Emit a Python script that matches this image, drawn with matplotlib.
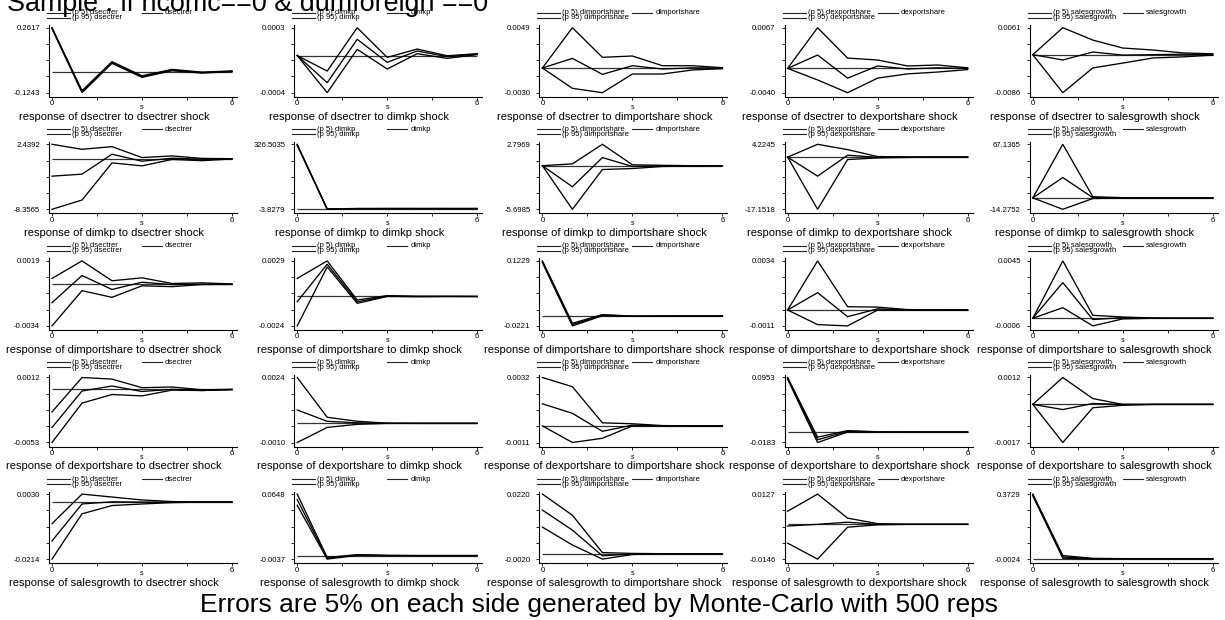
import matplotlib
matplotlib.use('Agg')
import matplotlib.pyplot as plt
from matplotlib.lines import Line2D
import numpy as np

plt.rcParams['font.family'] = ['Liberation Sans', 'DejaVu Sans']

# ---------------- data ----------------
steps = [0, 1, 2, 3, 4, 5, 6]
variables = ['dsectrer', 'dimkp', 'dimportshare', 'dexportshare', 'salesgrowth']
x_ticks = [0, 1.5, 3, 4.5, 6]
x_tick_labels = ['0', '', '', '', '6']
main_title = 'Sample : if ncomc==0 & dumforeign ==0'
footnote = 'Errors are 5% on each side generated by Monte-Carlo with 500 reps'

# response of dsectrer to [dsectrer, dimkp, dimportshare, dexportshare, salesgrowth] shock
p5_dsectrer = [
    [0.2560, -0.1243, 0.050, -0.033, 0.006, -0.008, 0.001],
    [0, -0.00040, 0.000067, -0.000145, 0.00002, -0.00003, 0.00001],
    [0, -0.00247, -0.0030, -0.00073, -0.00073, -0.00024, -0.00008],
    [0, -0.0019, -0.0040, -0.0016, -0.0009, -0.0006, -0.0002],
    [0, -0.0086, -0.0030, -0.0019, -0.00075, -0.0005, -0.0001],
]
irf_dsectrer = [
    [0.2590, -0.118, 0.055, -0.028, 0.010, -0.005, 0.003],
    [0, -0.000292, 0.000175, -0.000073, 0.000049, -0.000012, 0.000015],
    [0, 0.00117, -0.00077, 0.00028, -0.00012, 0.00002, 0.0],
    [0, 0.0022, -0.0016, 0.0004, -0.0001, 0.0001, 0.0],
    [0, -0.0012, 0.0006, -0.0001, 0.0, 0.0001, 0.0],
]
p95_dsectrer = [
    [0.2617, -0.112, 0.060, -0.024, 0.014, -0.002, 0.005],
    [0, -0.000167, 0.00030, -0.00002, 0.00007, -0.000002, 0.00002],
    [0, 0.0049, 0.0013, 0.00146, 0.00028, 0.00028, 0.00004],
    [0, 0.0067, 0.0017, 0.00138, 0.0004, 0.00056, 0.0001],
    [0, 0.0061, 0.0033, 0.0015, 0.00106, 0.0004, 0.0002],
]

# response of dimkp
p5_dimkp = [
    [-8.3565, -6.82, -0.65, -1.14, -0.08, -0.28, 0.0],
    [321.5, -3.8279, -0.7, -0.1, -0.05, -0.02, -0.01],
    [0, -5.6985, -0.50, -0.37, -0.1, -0.05, 0.0],
    [0, -17.1518, -0.79, -0.25, -0.1, 0.0, 0.0],
    [0, -14.2752, -0.8, -0.1, 0.0, 0.0, 0.0],
]
irf_dimkp = [
    [-2.85, -2.52, 0.79, -0.37, 0.13, -0.03, 0.05],
    [324.0, -3.0, -0.2, 0.0, 0.0, 0.0, 0.0],
    [0, -2.75, 1.06, -0.10, 0.0, 0.0, 0.0],
    [0, -6.25, 0.63, -0.05, 0.0, 0.0, 0.0],
    [0, 25.5, 0.3, 0.1, 0.0, 0.0, 0.0],
]
p95_dimkp = [
    [2.4392, 1.61, 2.05, 0.24, 0.51, 0.1, 0.05],
    [326.5035, -2.0, 0.3, 0.1, 0.05, 0.02, 0.01],
    [0, 0.24, 2.7969, 0.12, 0.05, 0.0, 0.0],
    [0, 4.2245, 2.47, 0.2, 0.05, 0.0, 0.0],
    [0, 67.1365, 1.5, 0.3, 0.1, 0.0, 0.0],
]

# response of dimportshare
p5_dimportshare = [
    [-0.0034, -0.00053, -0.00107, -0.00013, -0.0002, -0.00003, -0.00002],
    [-0.0024, 0.00241, -0.00056, 0.0, -0.00002, 0.0, 0.0],
    [0.1190, -0.0221, 0.0005, -0.0008, -0.0003, -0.0001, 0.0],
    [0, -0.00101, -0.0011, 0.0, 0.0, 0.0, 0.0],
    [0, 0.00083, -0.0006, -0.00005, 0.0, 0.0, 0.0],
]
irf_dimportshare = [
    [-0.00151, 0.00071, -0.00043, 0.00016, -0.00003, 0.0, -0.00001],
    [-0.00043, 0.00263, -0.00043, 0.00002, 0.0, 0.0, 0.0],
    [0.1210, -0.0192, 0.002, -0.0005, -0.0002, 0.0, 0.0],
    [0, 0.0012, -0.00046, 0.00008, 0.0, 0.0, 0.0],
    [0, 0.0028, -0.0001, 0.00005, 0.0, 0.0, 0.0],
]
p95_dimportshare = [
    [0.00047, 0.0019, 0.00028, 0.00052, 0.00006, 0.00011, 0.00002],
    [0.00147, 0.0029, -0.00029, 0.00007, 0.00002, 0.00001, 0.0],
    [0.1229, -0.0162, 0.003, -0.0002, -0.0001, 0.0, 0.0],
    [0, 0.0034, 0.00023, 0.0002, 0.00003, 0.00001, 0.0],
    [0, 0.0045, 0.00023, 0.0001, 0.00002, 0.0, 0.0],
]

# response of dexportshare
p5_dexportshare = [
    [-0.0053, -0.00136, -0.0005, -0.00064, -0.00006, -0.0001, -0.00002],
    [-0.0010, -0.00021, -0.00005, 0.0, 0.0, 0.0, 0.0],
    [0, -0.0011, -0.00082, 0.0, 0.0, 0.0, 0.0],
    [0.0925, -0.0183, 0.0, -0.0005, -0.0002, 0.0, 0.0],
    [0, -0.0017, -0.00015, -0.00004, 0.0, 0.0, 0.0],
]
irf_dexportshare = [
    [-0.0038, -0.00015, 0.00035, -0.0002, 0.00002, -0.0001, 0.0],
    [0.0007, 0.00011, 0.00003, 0.0, 0.0, 0.0, 0.0],
    [0.00146, 0.00083, -0.00036, 0.00005, 0.0, 0.0, 0.0],
    [0.0940, -0.0135, 0.0012, 0.0, 0.0, 0.0, 0.0],
    [0, -0.00023, 0.00004, 0.0, 0.0, 0.0, 0.0],
]
p95_dexportshare = [
    [-0.00224, 0.0012, 0.00104, 0.00018, 0.00025, -0.00003, 0.00002],
    [0.0024, 0.00032, 0.00011, 0.00001, 0.0, 0.0, 0.0],
    [0.0032, 0.00259, 0.0002, 0.00014, 0.00002, 0.0, 0.0],
    [0.0953, -0.0090, 0.0025, 0.0005, 0.0001, 0.0, 0.0],
    [0, 0.0012, 0.00026, 0.0, 0.0, 0.0, 0.0],
]

# response of salesgrowth
p5_salesgrowth = [
    [-0.0214, -0.0044, -0.0013, -0.0007, -0.0002, 0.0, 0.0],
    [0.0530, -0.0037, 0.0002, 0.0, 0.0, 0.0, 0.0],
    [0.0098, 0.0032, -0.0020, -0.0003, 0.0, 0.0, 0.0],
    [-0.0079, -0.0146, -0.0012, -0.0002, 0.0, 0.0, 0.0],
    [0.3630, 0.0030, -0.0024, -0.0005, 0.0, 0.0, 0.0],
]
irf_salesgrowth = [
    [-0.0146, -0.0007, 0.0001, 0.0, 0.0, 0.0, 0.0],
    [0.0590, -0.0028, 0.0006, 0.0001, 0.0, 0.0, 0.0],
    [0.0161, 0.0087, -0.0008, -0.0001, 0.0, 0.0, 0.0],
    [-0.0007, 0.0, 0.0009, 0.0, 0.0, 0.0, 0.0],
    [0.3680, 0.0100, 0.0, 0.0, 0.0, 0.0, 0.0],
]
p95_salesgrowth = [
    [-0.0081, 0.0030, 0.0019, 0.0008, 0.0002, 0.0, 0.0],
    [0.0648, -0.0020, 0.0010, 0.0002, 0.0, 0.0, 0.0],
    [0.0220, 0.0142, 0.0004, 0.0001, 0.0, 0.0, 0.0],
    [0.0055, 0.0127, 0.0026, 0.0003, 0.0, 0.0, 0.0],
    [0.3729, 0.0180, 0.0020, 0.0003, 0.0, 0.0, 0.0],
]

p5_all = [p5_dsectrer, p5_dimkp, p5_dimportshare, p5_dexportshare, p5_salesgrowth]
irf_all = [irf_dsectrer, irf_dimkp, irf_dimportshare, irf_dexportshare, irf_salesgrowth]
p95_all = [p95_dsectrer, p95_dimkp, p95_dimportshare, p95_dexportshare, p95_salesgrowth]

# ---------------- layout ----------------
W, H = 1225, 620
fig = plt.figure(figsize=(W / 100, H / 100), dpi=100)
fig.patch.set_facecolor('white')


def fx(px):
    return px / W


def fy(py):
    return 1 - py / H


LINE_KW = dict(color='black', lw=0.95, solid_joinstyle='miter')
COL_W = 245.2
ROW_H = 116.6

for r, resp in enumerate(variables):
    for c, imp in enumerate(variables):
        x0 = 52 + COL_W * c          # pixel of step 0
        ytop = 27.7 + ROW_H * r       # pixel of band maximum
        ybot = ytop + 65              # pixel of band minimum
        ax = fig.add_axes([fx(x0 - 3), fy(ybot + 4), 188 / W, 71.5 / H])

        lo5 = p5_all[r][c]
        mid = irf_all[r][c]
        hi95 = p95_all[r][c]
        vmin = min(min(lo5), min(mid), min(hi95))
        vmax = max(max(lo5), max(mid), max(hi95))
        span = vmax - vmin

        ax.hlines(0, steps[0], steps[-1], colors='#333333', lw=0.9)
        ax.plot(steps, lo5, **LINE_KW)
        ax.plot(steps, mid, **LINE_KW)
        ax.plot(steps, hi95, **LINE_KW)

        ax.set_xlim(-0.1, 6.1667)
        ax.set_ylim(vmin - span * 4 / 65, vmax + span * 2.5 / 65)
        for s in ['top', 'right']:
            ax.spines[s].set_visible(False)
        for s in ['left', 'bottom']:
            ax.spines[s].set_linewidth(0.8)
        ax.patch.set_alpha(0)

        yt = np.linspace(vmin, vmax, 5)
        ax.set_yticks(yt)
        ax.set_yticklabels(['%.4f' % vmin, '', '', '', '%.4f' % vmax])
        ax.set_xticks(x_ticks)
        ax.set_xticklabels(x_tick_labels)
        ax.tick_params(axis='y', length=2.4, width=0.6, labelsize=5.6, pad=4)
        ax.tick_params(axis='x', length=2.0, width=0.6, labelsize=5.6, pad=0.5)

        # axis title "s" and panel caption
        fig.text(fx(x0 + 90), fy(ybot + 14.6), 's', fontsize=5,
                 ha='center', va='center')
        fig.text(fx(x0 + 62), fy(ybot + 24), 'response of %s to %s shock' % (resp, imp),
                 fontsize=8, ha='center', va='center')

        # legend (Stata style, above the plot region)
        for (ya, xa, xb, xt, lab) in [
            (ytop - 15, x0 - 5, x0 + 18, x0 + 20, '(p 5) %s' % imp),
            (ytop - 10, x0 - 5, x0 + 18, x0 + 20, '(p 95) %s' % imp),
            (ytop - 15, x0 + 90, x0 + 110, x0 + 113, imp),
        ]:
            fig.add_artist(Line2D([fx(xa), fx(xb)], [fy(ya), fy(ya)],
                                  color='#222222', lw=0.8))
            fig.text(fx(xt), fy(ya), lab, fontsize=5.5, ha='left', va='center')

fig.text(fx(7), fy(11), main_title, fontsize=19.4, ha='left', va='baseline')
fig.text(fx(599), fy(612), footnote, fontsize=19, ha='center', va='baseline')

fig.savefig('out.png', dpi=100, facecolor='white')
